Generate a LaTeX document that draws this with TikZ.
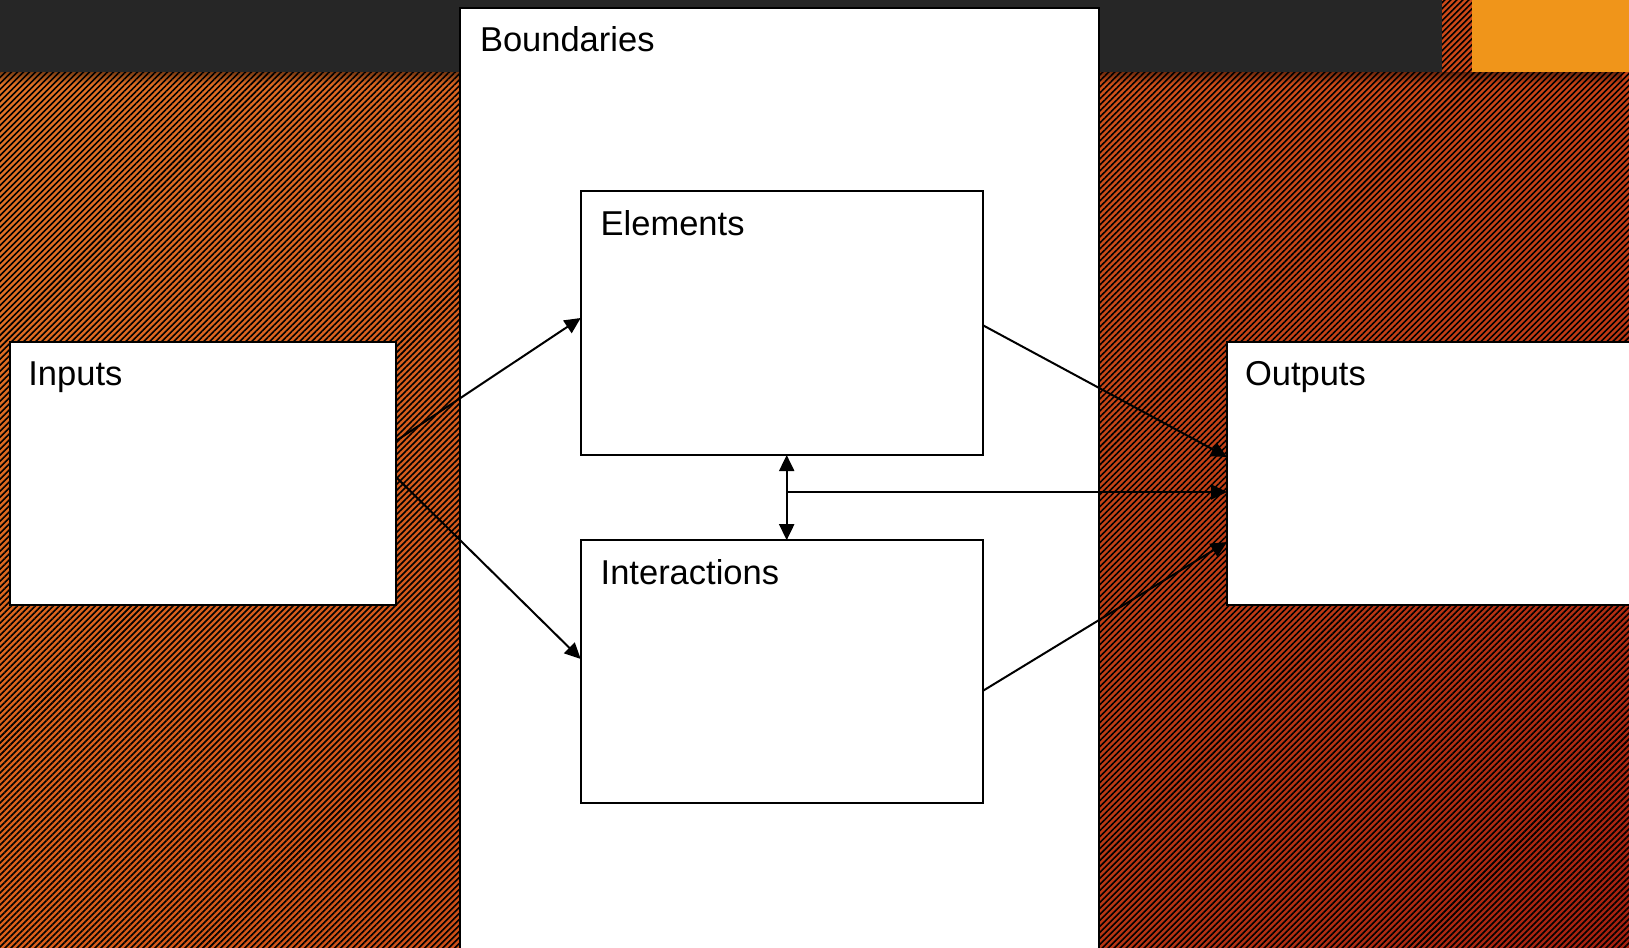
\documentclass[tikz,border=0pt]{standalone}
\usepackage{fontspec}
\setmainfont{Liberation Sans}
\usetikzlibrary{arrows.meta,calc,patterns.meta,shadings,fadings}

\definecolor{barbg}{HTML}{262626}
\definecolor{accent}{HTML}{F0951A}
\definecolor{warmUL}{RGB}{226,116,38}
\definecolor{warmLL}{RGB}{220,96,26}
\definecolor{warmUR}{RGB}{202,68,22}
\definecolor{warmLR}{RGB}{166,32,16}

\tikzset{
  panel/.style={draw=black, fill=white, line width=2pt, inner sep=0pt, outer sep=0pt,
                rectangle, anchor=north west},
  lbl/.style={inner sep=0pt, outer sep=0pt, anchor=base west,
              font=\fontsize{34.5}{40}\selectfont},
  tip/.tip={Triangle[length=16pt,width=15pt]},
  arr/.style={draw=black, line width=2pt, -tip},
  dblarr/.style={draw=black, line width=2pt, tip-tip},
}

\begin{document}
\begin{tikzpicture}[x=1pt,y=1pt]
  \useasboundingbox (0,0) rectangle (1629,-947);
  \clip (0,0) rectangle (1629,-947);

  % striped, shaded backdrop
  \shade[upper left=warmUL, lower left=warmLL, upper right=warmUR, lower right=warmLR]
    (0,0) rectangle (1629,-947);
  \fill[pattern={Lines[angle=45, distance=4.24pt, line width=1.6pt]}, pattern color=black]
    (0,0) rectangle (1629,-947);

  % title bar, its soft shadow and corner accent
  \fill[black, opacity=0.45, path fading=south] (0,-72) rectangle (1629,-84);
  \fill[barbg] (0,0) rectangle (1442,-72);
  \fill[accent] (1472,0) rectangle (1629,-72);

  % boxes
  \node[panel, minimum width=639pt, minimum height=960pt] (bnd) at (460,-8) {};
  \node[panel, minimum width=385.4pt, minimum height=262.7pt] (inp) at (10.4,-341.8) {};
  \node[panel, minimum width=402.1pt, minimum height=263.8pt] (elm) at (580.7,-191.2) {};
  \node[panel, minimum width=402.1pt, minimum height=262.9pt] (itr) at (580.7,-540.2) {};
  \node[panel, minimum width=420pt, minimum height=262.7pt] (out) at (1227,-341.8) {};

  % titles
  \node[lbl] (bndt) at ($(bnd.north west)+(20,-44)$) {Boundaries};
  \node[lbl] (inpt) at ($(inp.north west)+(18,-44)$) {Inputs};
  \node[lbl] (elmt) at ($(elm.north west)+(20,-44)$) {Elements};
  \node[lbl] (itrt) at ($(itr.north west)+(20,-44)$) {Interactions};
  \node[lbl] (outt) at ($(out.north west)+(18,-44)$) {Outputs};

  % connectors
  \coordinate (hub) at (786.7,-492);
  \draw[arr] ($(inp.north east)+(0,-99.2)$) -- ($(elm.north west)+(0,-126.8)$);
  \draw[arr] ($(inp.north east)+(0,-135)$) -- ($(itr.north west)+(0,-118.8)$);
  \draw[arr] ($(elm.north east)+(0,-134)$) -- ($(out.north west)+(0,-115.2)$);
  \draw[arr] ($(itr.north east)+(0,-150.7)$) -- ($(out.north west)+(0,-200.2)$);
  \draw[dblarr] (elm.south west -| hub) -- (itr.north west -| hub);
  \draw[arr] (hub) -- (hub -| out.west);
\end{tikzpicture}
\end{document}
